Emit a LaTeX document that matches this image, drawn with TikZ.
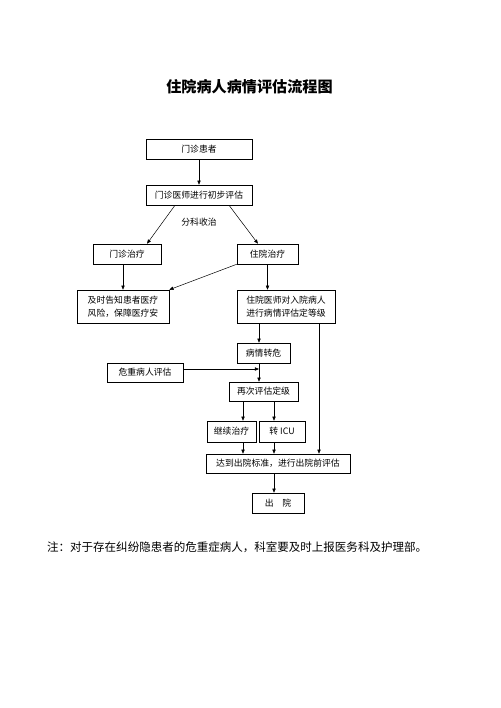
\documentclass[tikz,border=0pt]{standalone}
\usepackage{fontspec}
\setmainfont{Noto Sans CJK SC}
\usetikzlibrary{positioning, arrows.meta, calc}

\begin{document}
\begin{tikzpicture}[
    x=1.19pt, y=-1.19pt,
    boxstyle/.style={
        draw, line width=0.6pt, inner sep=2pt,
        font=\fontsize{10.5}{15.5}\selectfont,
        minimum height=23.8pt,
    },
    arrowstyle/.style={-{Triangle[length=5pt,width=4pt]}, line width=0.6pt}
]
\useasboundingbox (0,0) rectangle (500,708);

% Title
\node[font=\fontsize{18}{22}\selectfont\bfseries] (title) at (249.5,87) {住院病人病情评估流程图};

% Columns for the arrows
\coordinate (colA) at (259,0);
\coordinate (colB) at (243,0);
\coordinate (colC) at (274,0);
\coordinate (colD) at (319,0);

% Outpatient part
\node[boxstyle, minimum width=126.1pt] (mzhz) at (199,149) {门诊患者};
\node[boxstyle, minimum width=126.1pt] (cbpg) at (199,195) {门诊医师进行初步评估};
\node[font=\fontsize{10.5}{13}\selectfont] (fksz) at (199,222) {分科收治};
\node[boxstyle, minimum width=80.9pt] (mzzl) at (127,254) {门诊治疗};
\node[boxstyle, minimum width=72.6pt] (zyzl) at (267.5,254) {住院治疗};
\node[boxstyle, minimum width=109.5pt, minimum height=39.3pt, align=left] (gzfx) at (123,306.5) {及时告知患者医疗\\风险，保障医疗安};
\node[boxstyle, minimum width=116.6pt, minimum height=39.3pt, align=left] (rypg) at (286,306.5) {住院医师对入院病人\\进行病情评估定等级};

% Inpatient part
\node[boxstyle, minimum width=63.1pt] (bqzw) at (263.5,353) {病情转危};
\node[boxstyle, minimum width=90.4pt, minimum height=22.6pt] (wzpg) at (145,372.5) {危重病人评估};
\node[boxstyle, minimum width=82.1pt, minimum height=22.6pt] (zcpg) at (263.5,391.5) {再次评估定级};
\node[boxstyle, minimum width=58.3pt, minimum height=25pt] (jxzl) at (231.5,431.5) {继续治疗};
\node[boxstyle, minimum width=54.7pt, minimum height=25pt] (zicu) at (282,431.5) {转 ICU};
\node[boxstyle, minimum width=171.4pt, minimum height=22.6pt] (cypg) at (278,463.5) {达到出院标准，进行出院前评估};
\node[boxstyle, minimum width=61.9pt] (chuy) at (278,503) {出\quad 院};

% Note
\node[anchor=west, inner sep=0pt, font=\fontsize{13.7}{16}\selectfont] (note) at (47,547) {注：对于存在纠纷隐患者的危重症病人，科室要及时上报医务科及护理部。};

% Arrows
\draw[arrowstyle] (mzhz) -- (cbpg);
\draw[arrowstyle] ($(cbpg.south)+(-24,0)$) -- ($(mzzl.north)+(20,0)$);
\draw[arrowstyle] ($(cbpg.south)+(30,0)$) -- ($(zyzl.north)+(-9.5,0)$);
\draw[arrowstyle] (mzzl.south -| gzfx.north) -- (gzfx.north);
\draw[arrowstyle] (zyzl.south west) -- (gzfx.north east);
\draw[arrowstyle] (zyzl.south) -- (rypg.north -| zyzl.south);
\draw[arrowstyle] (rypg.south -| colA) -- (bqzw.north -| colA);
\draw[arrowstyle] (rypg.south -| colD) -- (cypg.north -| colD);
\draw[arrowstyle] (bqzw.south -| colA) -- (zcpg.north -| colA);
\coordinate (wzout) at ($(wzpg.east)+(0,-3.5)$);
\draw[arrowstyle] (wzout) -- (wzout -| colA);
\draw[arrowstyle] (zcpg.south -| colB) -- (jxzl.north -| colB);
\draw[arrowstyle] (zcpg.south -| colC) -- (zicu.north -| colC);
\draw[arrowstyle] (jxzl.south -| colB) -- (cypg.north -| colB);
\draw[arrowstyle] (zicu.south -| colC) -- (cypg.north -| colC);
\draw[arrowstyle] (cypg.south -| colC) -- (chuy.north -| colC);

\end{tikzpicture}
\end{document}
